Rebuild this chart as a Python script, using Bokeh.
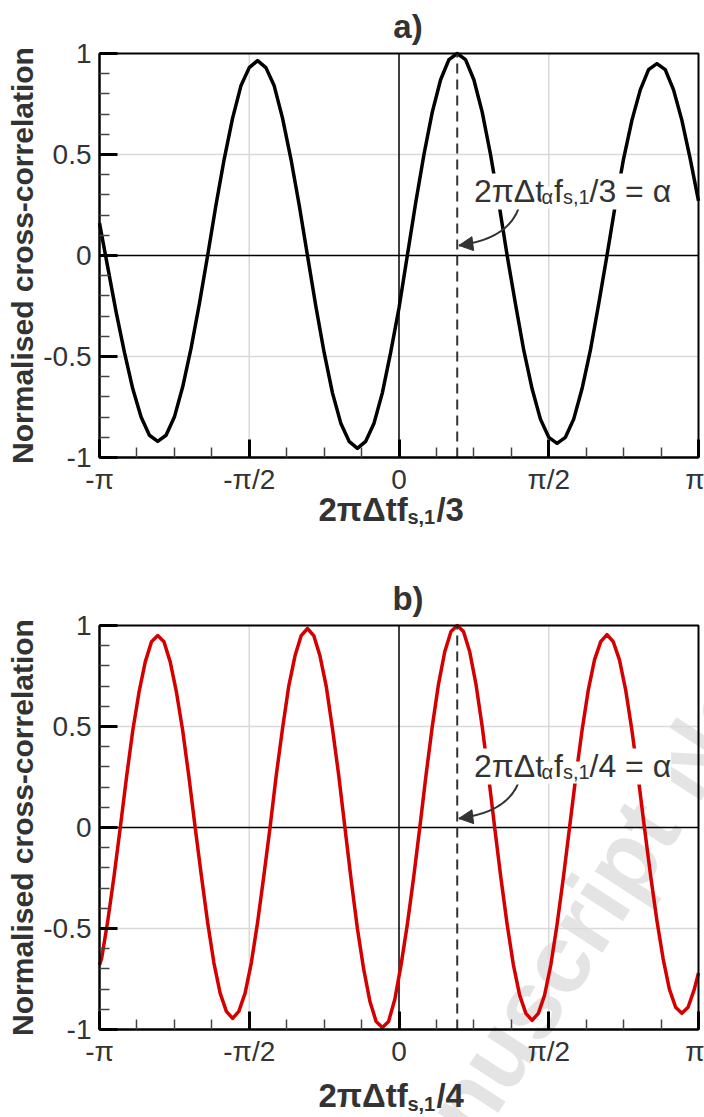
import math
from bokeh.plotting import figure
from bokeh.models import FixedTicker, Label, Arrow, NormalHead, Range1d
from bokeh.layouts import column
from bokeh.embed import file_html
from bokeh.resources import INLINE

# ---------------- data (x in units of pi) ----------------
x_a = [-1.0, -0.9722, -0.9444, -0.9167, -0.8889, -0.8611, -0.8333, -0.8056, -0.7778, -0.75,
       -0.7222, -0.6944, -0.6667, -0.6389, -0.6111, -0.5833, -0.5556, -0.5278, -0.5, -0.4722,
       -0.4444, -0.4167, -0.3889, -0.3611, -0.3333, -0.3056, -0.2778, -0.25, -0.2222, -0.1944,
       -0.1667, -0.1389, -0.1111, -0.0833, -0.0556, -0.0278, 0.0, 0.0278, 0.0556, 0.0833,
       0.1111, 0.1389, 0.1667, 0.1944, 0.2222, 0.25, 0.2778, 0.3056, 0.3333, 0.3611,
       0.3889, 0.4167, 0.4444, 0.4722, 0.5, 0.5278, 0.5556, 0.5833, 0.6111, 0.6389,
       0.6667, 0.6944, 0.7222, 0.75, 0.7778, 0.8056, 0.8333, 0.8611, 0.8889, 0.9167,
       0.9444, 0.9722, 1.0]
y_a = [0.16, -0.06, -0.28, -0.48, -0.66, -0.80, -0.89, -0.92, -0.89, -0.80, -0.65, -0.46, -0.24,
       0.0, 0.25, 0.48, 0.68, 0.84, 0.93, 0.965, 0.93, 0.84, 0.68, 0.48, 0.25, 0.0,
       -0.25, -0.48, -0.68, -0.83, -0.92, -0.955, -0.92, -0.83, -0.68, -0.48, -0.26, 0.0,
       0.26, 0.5, 0.71, 0.87, 0.97, 1.0, 0.97, 0.87, 0.71, 0.5, 0.26, 0.0,
       -0.24, -0.47, -0.66, -0.81, -0.9, -0.93, -0.9, -0.81, -0.66, -0.47, -0.24, 0.0,
       0.25, 0.48, 0.67, 0.82, 0.92, 0.95, 0.92, 0.82, 0.67, 0.48, 0.27]

x_b = [-1.0, -0.99306, -0.97222, -0.95139, -0.93056, -0.90972, -0.88889, -0.86806, -0.84722,
       -0.82639, -0.80556, -0.78472, -0.76389, -0.74306, -0.72222, -0.70139, -0.68056, -0.65972,
       -0.63889, -0.61806, -0.59722, -0.57639, -0.55556, -0.53472, -0.51389, -0.49306, -0.47222,
       -0.45139, -0.43056, -0.40972, -0.38889, -0.36806, -0.34722, -0.32639, -0.30556, -0.28472,
       -0.26389, -0.24306, -0.22222, -0.20139, -0.18056, -0.15972, -0.13889, -0.11806, -0.09722,
       -0.07639, -0.05556, -0.03472, -0.01389, 0.00694, 0.02778, 0.04861, 0.06944, 0.09028,
       0.11111, 0.13194, 0.15278, 0.17361, 0.19444, 0.21528, 0.23611, 0.25694, 0.27778, 0.29861,
       0.31944, 0.34028, 0.36111, 0.38194, 0.40278, 0.42361, 0.44444, 0.46528, 0.48611, 0.50694,
       0.52778, 0.54861, 0.56944, 0.59028, 0.61111, 0.63194, 0.65278, 0.67361, 0.69444, 0.71528,
       0.73611, 0.75694, 0.77778, 0.79861, 0.81944, 0.84028, 0.86111, 0.88194, 0.90278, 0.92361,
       0.94444, 0.96528, 0.98611, 1.0]
y_b = [-0.68, -0.65, -0.46, -0.24, 0.0,
       0.25, 0.48, 0.67, 0.82, 0.92, 0.95, 0.92, 0.82, 0.67, 0.48, 0.25, 0.0,
       -0.24, -0.47, -0.67, -0.82, -0.91, -0.945, -0.91, -0.82, -0.67, -0.47, -0.24, 0.0,
       0.26, 0.49, 0.70, 0.85, 0.95, 0.985, 0.95, 0.85, 0.70, 0.49, 0.26, 0.0,
       -0.26, -0.50, -0.70, -0.86, -0.96, -0.99, -0.96, -0.85, -0.68, -0.48, -0.25, 0.0,
       0.26, 0.5, 0.71, 0.87, 0.97, 1.0, 0.97, 0.87, 0.71, 0.5, 0.26, 0.0,
       -0.25, -0.48, -0.68, -0.83, -0.92, -0.955, -0.92, -0.83, -0.68, -0.48, -0.25, 0.0,
       0.25, 0.48, 0.68, 0.83, 0.92, 0.955, 0.92, 0.83, 0.68, 0.48, 0.25, 0.0,
       -0.24, -0.46, -0.65, -0.80, -0.89, -0.92, -0.89, -0.80, -0.72]

alpha_pos = 0.1944          # 2*pi*dt_alpha*f/n = alpha (in units of pi)

x_ticks = [-1, -0.5, 0, 0.5, 1]
x_tick_labels = ["-π", "-π/2", "0", "π/2", "π"]
x_minor = [-0.875, -0.75, -0.625, -0.375, -0.25, -0.125,
           0.125, 0.25, 0.375, 0.625, 0.75, 0.875]
y_ticks = [-1, -0.5, 0, 0.5, 1]
y_tick_labels = ["-1", "-0.5", "0", "0.5", "1"]
y_minor = [-0.9, -0.8, -0.7, -0.6, -0.4, -0.3, -0.2, -0.1,
           0.1, 0.2, 0.3, 0.4, 0.6, 0.7, 0.8, 0.9]
grid_ticks = [-0.5, 0.5]
zero_ticks = [0]

FONT = "Liberation Sans"
TXT = "#333333"
W = 704
BOX_L, BOX_R = 99, 698          # plot box inside the canvas (px)
PX_X = (BOX_R - BOX_L) / 2.0
PX_Y = 202.0


def rich(p, x0, y0, pieces, bold, bg=False):
    for text, size, dx, dy in pieces:
        kw = dict(x=x0 + dx / PX_X, y=y0 - dy / PX_Y, text=text,
                  text_font=FONT, text_font_size=f"{size}px",
                  text_font_style="bold" if bold else "normal",
                  text_color=TXT, text_align="left", text_baseline="alphabetic")
        if bg:
            kw.update(background_fill_color="white", background_fill_alpha=1.0)
        p.add_layout(Label(**kw))


def panel(xs, ys, color, title, denom, height, box_top, xlab_y, ann_y, arrow, watermark=False):
    box_bottom = box_top + 2 * PX_Y
    xr = Range1d(-1 - BOX_L / PX_X, 1 + (W - BOX_R) / PX_X)
    yr = Range1d(-1 - (height - box_bottom) / PX_Y, 1 + box_top / PX_Y)
    p = figure(width=W, height=height, x_range=xr, y_range=yr, title=None,
               min_border=0, min_border_left=0, min_border_right=0,
               min_border_top=0, min_border_bottom=0,
               output_backend="svg", toolbar_location=None,
               background_fill_color="white", border_fill_color="white")
    p.outline_line_color = None
    p.xgrid.visible = False
    p.ygrid.visible = False

    if watermark:
        p.add_layout(Label(x=0.641, y=-0.402, text="Accepted Manuscript Not Copyedited",
                           text_font=FONT, text_font_size="96px", text_font_style="bold",
                           text_color="#e4e4e4", text_align="center",
                           text_baseline="middle", angle=math.radians(57),
                           level="underlay"))

    p.xaxis.ticker = FixedTicker(ticks=x_ticks, minor_ticks=x_minor)
    p.yaxis.ticker = FixedTicker(ticks=y_ticks, minor_ticks=y_minor)
    p.xaxis.major_label_overrides = dict(zip(x_ticks, x_tick_labels))
    p.yaxis.major_label_overrides = dict(zip(y_ticks, y_tick_labels))
    p.xaxis.fixed_location = y_ticks[0]
    p.yaxis.fixed_location = x_ticks[0]
    p.xaxis.bounds = (x_ticks[0], x_ticks[-1])
    p.yaxis.bounds = (y_ticks[0], y_ticks[-1])
    for ax in (p.xaxis[0], p.yaxis[0]):
        ax.axis_line_color = "black"
        ax.axis_line_width = 2
        ax.major_tick_in = 18
        ax.major_tick_out = 0
        ax.major_tick_line_width = 3
        ax.major_tick_line_color = "black"
        ax.minor_tick_in = 10
        ax.minor_tick_out = 0
        ax.minor_tick_line_width = 1.5
        ax.minor_tick_line_color = "#444444"
        ax.major_label_text_font = FONT
        ax.major_label_text_font_size = "28px"
        ax.major_label_text_color = TXT
    p.xaxis.major_label_standoff = 6
    p.yaxis.major_label_standoff = 8

    y_lo, y_hi = y_ticks[0], y_ticks[-1]
    x_lo, x_hi = x_ticks[0], x_ticks[-1]
    # light grid at +-pi/2 and +-0.5
    p.segment(x0=grid_ticks, y0=[y_lo] * len(grid_ticks), x1=grid_ticks,
              y1=[y_hi] * len(grid_ticks), line_color="#d9d9d9", line_width=1.5)
    p.segment(x0=[x_lo] * len(grid_ticks), y0=grid_ticks, x1=[x_hi] * len(grid_ticks),
              y1=grid_ticks, line_color="#d9d9d9", line_width=1.5)
    # zero lines
    p.segment(x0=zero_ticks, y0=[y_lo], x1=zero_ticks, y1=[y_hi],
              line_color="black", line_width=1.5)
    p.segment(x0=[x_lo], y0=zero_ticks, x1=[x_hi], y1=zero_ticks,
              line_color="black", line_width=1.5)

    p.line(xs, ys, line_color=color, line_width=3.5, line_join="round")
    p.line([alpha_pos, alpha_pos], [y_lo, y_hi], line_color=TXT,
           line_width=2, line_dash="10 6")

    # plot box
    p.quad(left=[x_lo], right=[x_hi], bottom=[y_lo], top=[y_hi],
           fill_color=None, line_color="black", line_width=2)

    # annotation text
    rich(p, 0.2504, ann_y,
         [("2πΔt", 32, 0, 0), ("α", 20, 67.5, 6), ("f", 32, 80, 0),
          ("s,1", 20, 89, 6), (f"/{denom} = α", 32, 115.5, 0)], bold=False, bg=True)
    (sx, sy), (cx, cy), (ex, ey) = arrow
    p.quadratic(x0=[sx], y0=[sy], x1=[ex], y1=[ey], cx=[cx], cy=[cy],
                line_color=TXT, line_width=2)
    hx = ex + 0.2 * (cx - ex)
    hy = ey + 0.2 * (cy - ey)
    p.add_layout(Arrow(end=NormalHead(size=14, line_color=TXT, fill_color=TXT),
                       x_start=hx, y_start=hy, x_end=ex, y_end=ey,
                       line_color=TXT, line_width=2))

    # title
    p.add_layout(Label(x=0.03, y=1.134, text=title, text_font=FONT,
                       text_font_size="33px", text_font_style="bold", text_color=TXT,
                       text_align="center", text_baseline="middle"))
    # y label
    p.add_layout(Label(x=-1.257, y=0, text="Normalised cross-correlation",
                       text_font=FONT, text_font_size="30px", text_font_style="bold",
                       text_color=TXT, text_align="center", text_baseline="middle",
                       angle=math.pi / 2))
    # x label
    rich(p, -0.269, xlab_y,
         [("2πΔtf", 33, 0, 0), ("s,1", 20, 89, 8), (f"/{denom}", 33, 118, 0)], bold=True)
    return p


pa = panel(x_a, y_a, "black", "a)", 3, 565, 53, -1.257, 0.317,
           ((0.407, 0.272), (0.381, 0.084), (0.200, 0.050)))
pb = panel(x_b, y_b, "#d40000", "b)", 4, 552, 60, -1.327, 0.302,
           ((0.407, 0.262), (0.381, 0.078), (0.200, 0.045)), watermark=True)

layout = column(pa, pb, spacing=0)
open("out.html", "w").write(file_html(layout, INLINE))
